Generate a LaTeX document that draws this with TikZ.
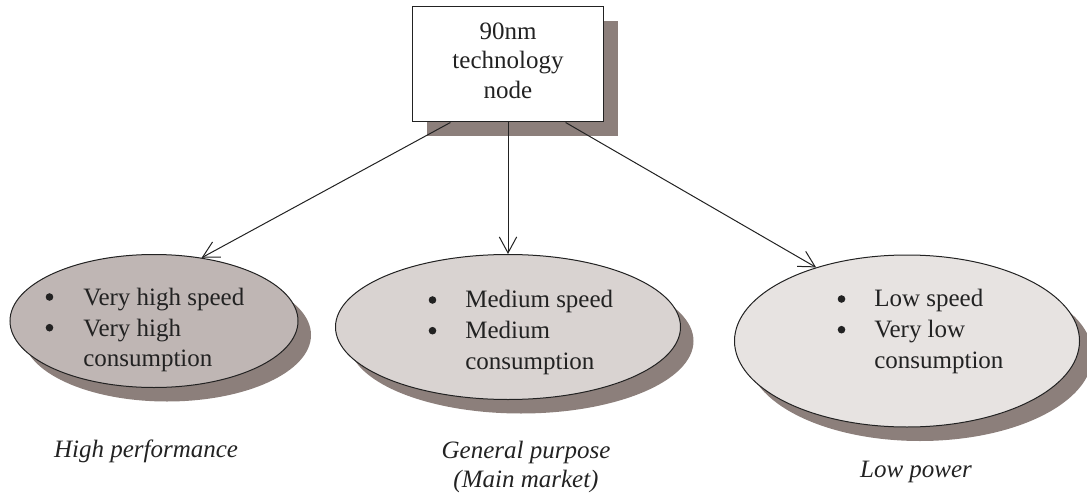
\documentclass[tikz,border=0pt]{standalone}
\usepackage{fontspec}
\setmainfont{Liberation Serif}
\usetikzlibrary{shapes.geometric,shadows,arrows.meta,calc}
\definecolor{shadowc}{HTML}{8C7F7B}
\definecolor{fillA}{HTML}{BFB6B4}
\definecolor{fillB}{HTML}{D9D3D1}
\definecolor{fillC}{HTML}{E7E3E1}
\definecolor{inkc}{HTML}{222222}
\begin{document}
\begin{tikzpicture}[x=0.75pt,y=-0.75pt,
  bubble/.style={ellipse, draw=inkc, line width=0.75pt, inner sep=0pt,
    drop shadow={shadow xshift=9.75pt, shadow yshift=-10.5pt, fill=shadowc, opacity=1}},
  techbox/.style={rectangle, draw=inkc, fill=white, line width=0.75pt,
    minimum width=143.25pt, minimum height=86.25pt, inner sep=0pt, align=center,
    font=\fontsize{18.75}{22}\selectfont, text=inkc,
    drop shadow={shadow xshift=10.5pt, shadow yshift=-10.5pt, fill=shadowc, opacity=1}},
  bullets/.style={inner sep=0pt, anchor=west, text=inkc, font=\fontsize{18.75}{23}\selectfont},
  dot/.style={fill=inkc},
  caption/.style={inner sep=0pt, anchor=base, text=inkc, font=\fontsize{18.75}{21.75}\selectfont\itshape, align=center},
  conn/.style={draw=inkc, line width=0.75pt, -{Straight Barb[length=12pt,width=13pt]}}
]
\useasboundingbox (0,0) rectangle (1087,495);

\node[techbox] (tech) at (508,64.5) {90nm\\technology\\node\rule[-6pt]{0pt}{0pt}};

\node[bubble, fill=fillA, minimum width=216pt, minimum height=99.75pt] (hp) at (154,321) {};
\node[bubble, fill=fillB, minimum width=258.75pt, minimum height=108.75pt] (gp) at (508,327) {};
\node[bubble, fill=fillC, minimum width=258.75pt, minimum height=129pt] (lp) at (907,341) {};

\node[bullets] (hpt) at (83,330) {\begin{tabular}{@{}l@{}}Very high speed\\ Very high\\ consumption\end{tabular}};
\node[bullets] (gpt) at (465,332.5) {\begin{tabular}{@{}l@{}}Medium speed\\ Medium\\ consumption\end{tabular}};
\node[bullets] (lpt) at (874,331.5) {\begin{tabular}{@{}l@{}}Low speed\\ Very low\\ consumption\end{tabular}};

\fill[dot] (49.5,297) circle (2.85pt) (49.5,327.7) circle (2.85pt);
\fill[dot] (432.5,300) circle (2.85pt) (432.5,330.7) circle (2.85pt);
\fill[dot] (841.5,299) circle (2.85pt) (841.5,329.7) circle (2.85pt);

\node[caption] (hpc) at (146,457) {High performance};
\node[caption] (gpc) at (526,487) {General purpose\\(Main market)};
\node[caption] (lpc) at (916,477) {Low power};

\draw[conn] ($(tech.south west)!0.2!(tech.south east)$) -- (hp.53);
\draw[conn] (tech.south) -- (gp.north);
\draw[conn] ($(tech.south west)!0.8!(tech.south east)$) -- (lp.141);
\end{tikzpicture}
\end{document}
